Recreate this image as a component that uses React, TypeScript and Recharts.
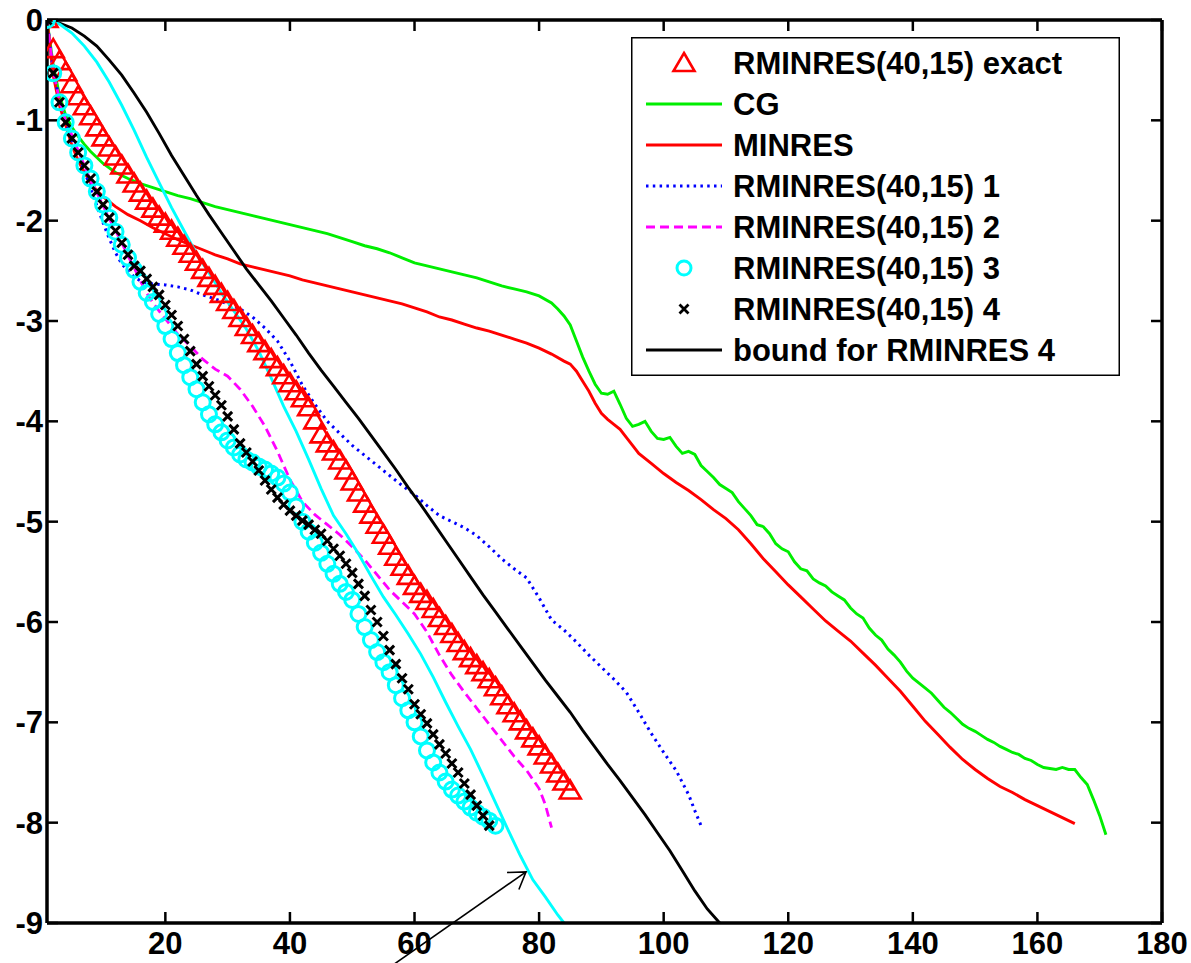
import React from 'react';
import { LineChart, Line, XAxis, YAxis, Legend, ReferenceLine } from 'recharts';

const FONT = '"Liberation Sans", Arial, Helvetica, sans-serif';

const xTicks = [20, 40, 60, 80, 100, 120, 140, 160, 180];
const yTicks = [0, -1, -2, -3, -4, -5, -6, -7, -8, -9];

// marker series: one value per iteration, starting at iteration 1
const exactVals = [
  0, -0.3, -0.42, -0.53, -0.65, -0.77, -0.87, -0.97, -1.08, -1.18,
  -1.28, -1.37, -1.46, -1.55, -1.64, -1.73, -1.81, -1.89, -1.97, -2.04,
  -2.11, -2.18, -2.26, -2.34, -2.42, -2.5, -2.58, -2.66, -2.74, -2.82,
  -2.9, -2.98, -3.07, -3.15, -3.23, -3.31, -3.39, -3.47, -3.55, -3.63,
  -3.71, -3.78, -3.87, -4.0, -4.14, -4.23, -4.31, -4.4, -4.5, -4.61,
  -4.72, -4.83, -4.94, -5.04, -5.14, -5.25, -5.36, -5.46, -5.55, -5.65,
  -5.73, -5.8, -5.88, -5.97, -6.05, -6.13, -6.22, -6.3, -6.37, -6.44,
  -6.51, -6.58, -6.66, -6.75, -6.84, -6.92, -7.0, -7.09, -7.17, -7.25,
  -7.34, -7.43, -7.52, -7.6, -7.69,
];

const run3Vals = [
  0, -0.53, -0.82, -1.02, -1.18, -1.32, -1.45, -1.58, -1.71, -1.84,
  -1.97, -2.11, -2.24, -2.37, -2.49, -2.61, -2.72, -2.81, -2.93, -3.05,
  -3.18, -3.32, -3.44, -3.56, -3.68, -3.81, -3.93, -4.03, -4.11, -4.19,
  -4.26, -4.33, -4.38, -4.41, -4.45, -4.48, -4.52, -4.56, -4.62, -4.71,
  -4.85, -5.0, -5.1, -5.21, -5.31, -5.42, -5.52, -5.62, -5.7, -5.78,
  -5.92, -6.05, -6.18, -6.3, -6.4, -6.5, -6.63, -6.76, -6.88, -7.0,
  -7.14, -7.28, -7.4, -7.5, -7.59, -7.67, -7.73, -7.79, -7.85, -7.9,
  -7.94, -7.98, -8.03,
];

const run4Vals = [
  0, -0.53, -0.82, -1.02, -1.18, -1.32, -1.45, -1.58, -1.71, -1.84,
  -1.97, -2.1, -2.22, -2.34, -2.45, -2.5, -2.58, -2.66, -2.74, -2.84,
  -2.94, -3.05, -3.18, -3.3, -3.43, -3.55, -3.65, -3.74, -3.84, -3.95,
  -4.08, -4.22, -4.31, -4.4, -4.49, -4.59, -4.68, -4.76, -4.83, -4.89,
  -4.94, -4.99, -5.03, -5.08, -5.12, -5.19, -5.27, -5.34, -5.42, -5.51,
  -5.62, -5.74, -5.88, -6.0, -6.14, -6.28, -6.42, -6.56, -6.67, -6.82,
  -6.92, -7.01, -7.12, -7.22, -7.31, -7.41, -7.5, -7.61, -7.72, -7.83,
  -7.93, -8.03,
];

// line series: [iteration, log10 residual]
const cgPts: [number, number][] = [
  [1, 0], [2, -0.45], [3, -0.75], [4, -0.95], [5, -1.07], [6, -1.16], [7, -1.24], [8, -1.31],
  [9, -1.37], [10, -1.43], [12, -1.52], [14, -1.58], [16, -1.63], [18, -1.67], [20, -1.71],
  [22, -1.75], [24, -1.78], [26, -1.82], [28, -1.86], [30, -1.89], [32, -1.92], [34, -1.95],
  [36, -1.98], [38, -2.01], [40, -2.04], [42, -2.07], [44, -2.1], [46, -2.13], [48, -2.17],
  [50, -2.21], [52, -2.25], [54, -2.28], [56, -2.32], [58, -2.37], [60, -2.42], [62, -2.45],
  [64, -2.48], [66, -2.51], [68, -2.54], [70, -2.57], [72, -2.61], [74, -2.65], [76, -2.68],
  [78, -2.71], [80, -2.75], [82, -2.82], [83, -2.88], [84, -2.95], [85, -3.04], [86, -3.2],
  [87, -3.36], [88, -3.5], [89, -3.63], [90, -3.72], [91, -3.73], [92, -3.7], [93, -3.83],
  [94, -3.97], [95, -4.05], [96, -4.03], [97, -4.0], [98, -4.1], [99, -4.17], [100, -4.18],
  [101, -4.16], [102, -4.25], [103, -4.32], [104, -4.3], [105, -4.33], [106, -4.44], [107, -4.5],
  [108, -4.56], [109, -4.63], [110, -4.67], [111, -4.71], [112, -4.8], [113, -4.87], [114, -4.94],
  [115, -5.03], [116, -5.05], [117, -5.12], [118, -5.22], [119, -5.27], [120, -5.3], [121, -5.4],
  [122, -5.47], [123, -5.49], [124, -5.57], [125, -5.61], [126, -5.64], [127, -5.7], [128, -5.74],
  [129, -5.78], [130, -5.86], [131, -5.92], [132, -5.96], [133, -6.06], [134, -6.13], [135, -6.18],
  [136, -6.27], [137, -6.33], [138, -6.4], [139, -6.49], [140, -6.56], [141, -6.61], [142, -6.66],
  [143, -6.71], [144, -6.78], [145, -6.85], [146, -6.9], [147, -6.96], [148, -7.02], [149, -7.06],
  [150, -7.09], [151, -7.13], [152, -7.17], [153, -7.2], [154, -7.24], [155, -7.27], [156, -7.3],
  [157, -7.32], [158, -7.36], [159, -7.38], [160, -7.42], [161, -7.45], [162, -7.46], [163, -7.47],
  [164, -7.45], [165, -7.47], [166, -7.47], [167, -7.55], [168, -7.62], [169, -7.77], [170, -7.93],
  [171, -8.12],
];

const minresPts: [number, number][] = [
  [1, 0], [2, -0.55], [3, -0.85], [4, -1.05], [5, -1.25], [6, -1.4], [7, -1.52], [8, -1.62],
  [9, -1.7], [10, -1.76], [12, -1.86], [14, -1.94], [16, -2.0], [18, -2.07], [20, -2.13],
  [22, -2.19], [24, -2.24], [26, -2.29], [28, -2.34], [30, -2.38], [32, -2.43], [34, -2.46],
  [36, -2.49], [38, -2.52], [40, -2.55], [42, -2.59], [44, -2.62], [46, -2.65], [48, -2.68],
  [50, -2.71], [52, -2.74], [54, -2.77], [56, -2.8], [58, -2.83], [60, -2.87], [62, -2.91],
  [64, -2.96], [66, -2.99], [68, -3.03], [70, -3.07], [72, -3.1], [74, -3.14], [76, -3.18],
  [78, -3.22], [80, -3.27], [82, -3.33], [84, -3.4], [85, -3.43], [86, -3.5], [87, -3.6],
  [88, -3.7], [89, -3.82], [90, -3.92], [91, -3.98], [92, -4.03], [93, -4.08], [94, -4.16],
  [95, -4.24], [96, -4.32], [98, -4.42], [100, -4.52], [102, -4.61], [104, -4.69], [106, -4.78],
  [108, -4.88], [110, -4.97], [112, -5.08], [114, -5.22], [116, -5.37], [118, -5.5], [120, -5.63],
  [122, -5.75], [124, -5.87], [126, -5.99], [128, -6.09], [130, -6.19], [132, -6.31], [134, -6.43],
  [136, -6.56], [138, -6.69], [140, -6.84], [142, -6.99], [144, -7.12], [146, -7.25], [148, -7.37],
  [150, -7.47], [152, -7.56], [154, -7.64], [156, -7.7], [158, -7.77], [160, -7.83], [162, -7.89],
  [164, -7.95], [166, -8.01],
];

const run1Pts: [number, number][] = [
  [1, 0], [2, -0.5], [3, -0.8], [4, -1.0], [5, -1.2], [6, -1.35], [7, -1.5], [8, -1.68],
  [9, -1.85], [10, -2.02], [11, -2.18], [12, -2.32], [13, -2.43], [14, -2.5], [15, -2.56],
  [16, -2.6], [17, -2.62], [18, -2.63], [20, -2.64], [22, -2.66], [24, -2.69], [26, -2.74],
  [28, -2.78], [30, -2.83], [32, -2.88], [34, -2.96], [36, -3.07], [38, -3.2], [40, -3.4],
  [42, -3.64], [44, -3.83], [46, -4.0], [48, -4.12], [50, -4.24], [52, -4.34], [54, -4.44],
  [56, -4.54], [58, -4.64], [60, -4.73], [62, -4.84], [64, -4.94], [66, -5.0], [68, -5.06],
  [70, -5.14], [72, -5.25], [74, -5.37], [76, -5.47], [78, -5.56], [80, -5.76], [82, -5.98],
  [84, -6.08], [86, -6.2], [88, -6.33], [90, -6.45], [92, -6.57], [94, -6.7], [96, -6.9],
  [98, -7.11], [100, -7.3], [102, -7.48], [104, -7.72], [105, -7.88], [106, -8.03],
];

const run2Pts: [number, number][] = [
  [1, 0], [2, -0.5], [3, -0.8], [4, -1.0], [5, -1.15], [6, -1.3], [7, -1.45], [8, -1.6],
  [9, -1.72], [10, -1.85], [11, -1.98], [12, -2.1], [13, -2.22], [14, -2.35], [15, -2.47],
  [16, -2.6], [17, -2.72], [18, -2.82], [20, -2.98], [22, -3.13], [24, -3.25], [26, -3.38],
  [28, -3.48], [30, -3.55], [32, -3.68], [34, -3.85], [36, -4.05], [38, -4.3], [40, -4.58],
  [42, -4.8], [44, -4.93], [46, -5.03], [48, -5.13], [50, -5.25], [52, -5.38], [54, -5.53],
  [56, -5.68], [58, -5.8], [60, -5.92], [62, -6.1], [64, -6.33], [66, -6.53], [68, -6.7],
  [70, -6.86], [72, -7.02], [74, -7.18], [76, -7.34], [78, -7.48], [80, -7.66], [81, -7.82],
  [82, -8.05],
];

const boundPts: [number, number][] = [
  [1, 0], [3, -0.03], [5, -0.08], [7, -0.16], [9, -0.26], [11, -0.4], [13, -0.55], [15, -0.73],
  [17, -0.92], [19, -1.13], [21, -1.35], [23, -1.55], [25, -1.75], [27, -1.94], [29, -2.12],
  [31, -2.3], [33, -2.48], [35, -2.64], [37, -2.8], [39, -2.97], [41, -3.14], [43, -3.32],
  [45, -3.49], [47, -3.65], [49, -3.81], [51, -3.97], [53, -4.14], [55, -4.31], [57, -4.48],
  [59, -4.66], [61, -4.83], [63, -5.01], [65, -5.19], [67, -5.37], [69, -5.55], [71, -5.73],
  [73, -5.9], [75, -6.07], [77, -6.24], [79, -6.41], [81, -6.58], [83, -6.74], [85, -6.9],
  [87, -7.08], [89, -7.25], [91, -7.42], [93, -7.58], [95, -7.75], [97, -7.92], [99, -8.1],
  [101, -8.28], [103, -8.48], [105, -8.68], [107, -8.86], [109, -9.0],
];

// the unlabelled cyan curve the arrow points at
const cyanPts: [number, number][] = [
  [1, 0], [3, -0.04], [5, -0.13], [7, -0.26], [9, -0.42], [11, -0.62], [13, -0.85], [15, -1.1],
  [17, -1.37], [19, -1.62], [21, -1.87], [23, -2.1], [25, -2.33], [27, -2.52], [29, -2.72],
  [31, -2.9], [33, -3.08], [35, -3.3], [37, -3.57], [39, -3.85], [41, -4.1], [43, -4.38],
  [45, -4.67], [47, -4.94], [49, -5.12], [51, -5.32], [53, -5.54], [55, -5.75], [57, -5.93],
  [59, -6.12], [61, -6.32], [63, -6.55], [65, -6.8], [67, -7.04], [69, -7.27], [71, -7.53],
  [73, -7.8], [75, -8.07], [77, -8.33], [79, -8.57], [81, -8.74], [83, -8.92], [84, -9.0],
];

// arrow annotation, tail then head (data coords)
const arrowSegment = [{ x: 56.5, y: -9.42 }, { x: 77.9, y: -8.49 }];

const fromVals = (vals: number[]) => vals.map((y, i) => ({ x: i + 1, y }));
const fromPts = (pts: [number, number][]) => pts.map(([x, y]) => ({ x, y }));

const RED = '#ff0000';
const GREEN = '#00ee00';
const BLUE = '#0000ff';
const MAGENTA = '#ff00ff';
const CYAN = '#00ffff';

const triPath = (cx: number, cy: number) =>
  `M${cx},${cy - 11}L${cx + 10.5},${cy + 7}L${cx - 10.5},${cy + 7}Z`;
const xPath = (cx: number, cy: number) =>
  `M${cx - 4.5},${cy - 4.5}L${cx + 4.5},${cy + 4.5}M${cx - 4.5},${cy + 4.5}L${cx + 4.5},${cy - 4.5}`;

const TriangleDot = (props: any) => {
  const { cx, cy, index } = props;
  if (cx == null || cy == null) return <g key={`t${index}`} />;
  return <path key={`t${index}`} d={triPath(cx, cy)} fill="none" stroke={RED} strokeWidth={2.6} />;
};

const CircleDot = (props: any) => {
  const { cx, cy, index } = props;
  if (cx == null || cy == null) return <g key={`c${index}`} />;
  return <circle key={`c${index}`} cx={cx} cy={cy} r={7.5} fill="none" stroke={CYAN} strokeWidth={3} />;
};

const CrossDot = (props: any) => {
  const { cx, cy, index } = props;
  if (cx == null || cy == null) return <g key={`x${index}`} />;
  return <path key={`x${index}`} d={xPath(cx, cy)} stroke="#000" strokeWidth={3} />;
};

const ArrowShape = (props: any) => {
  const { x1, y1, x2, y2 } = props;
  if ([x1, y1, x2, y2].some((v) => v == null || isNaN(v))) return <g />;
  const ang = Math.atan2(y1 - y2, x1 - x2);
  const len = 19;
  const spread = (33 * Math.PI) / 180;
  const b1x = x2 + len * Math.cos(ang + spread);
  const b1y = y2 + len * Math.sin(ang + spread);
  const b2x = x2 + len * Math.cos(ang - spread);
  const b2y = y2 + len * Math.sin(ang - spread);
  return (
    <g stroke="#000" strokeWidth={1.6} fill="none">
      <line x1={x1} y1={y1} x2={x2} y2={y2} />
      <polyline points={`${b1x},${b1y} ${x2},${y2} ${b2x},${b2y}`} />
    </g>
  );
};

type LegendKind = 'tri' | 'line' | 'dot' | 'dash' | 'circle' | 'cross';
const legendItems: { name: string; color: string; kind: LegendKind }[] = [
  { name: 'RMINRES(40,15) exact', color: RED, kind: 'tri' },
  { name: 'CG', color: GREEN, kind: 'line' },
  { name: 'MINRES', color: RED, kind: 'line' },
  { name: 'RMINRES(40,15) 1', color: BLUE, kind: 'dot' },
  { name: 'RMINRES(40,15) 2', color: MAGENTA, kind: 'dash' },
  { name: 'RMINRES(40,15) 3', color: CYAN, kind: 'circle' },
  { name: 'RMINRES(40,15) 4', color: '#000', kind: 'cross' },
  { name: 'bound for RMINRES 4', color: '#000', kind: 'line' },
];

const LegendBox = () => (
  <svg width={490} height={340} style={{ display: 'block' }}>
    <rect x={0.75} y={0.75} width={487.5} height={337.5} fill="#fff" stroke="#000" strokeWidth={1.5} />
    {legendItems.map((it, i) => {
      const y = 26 + i * 41;
      let mark: React.ReactNode = null;
      if (it.kind === 'tri') mark = <path d={triPath(53, y + 1)} fill="none" stroke={it.color} strokeWidth={2.6} />;
      else if (it.kind === 'circle') mark = <circle cx={53} cy={y} r={7} fill="none" stroke={it.color} strokeWidth={3} />;
      else if (it.kind === 'cross') mark = <path d={xPath(53, y)} stroke={it.color} strokeWidth={2.8} />;
      else
        mark = (
          <line
            x1={15}
            x2={91}
            y1={y}
            y2={y}
            stroke={it.color}
            strokeWidth={it.kind === 'dot' ? 3 : 2.8}
            strokeDasharray={it.kind === 'dot' ? '2.5 4.3' : it.kind === 'dash' ? '9 5' : undefined}
          />
        );
      return (
        <g key={it.name}>
          {mark}
          <text x={102} y={y + 11} fontFamily={FONT} fontWeight="bold" fontSize={31} fill="#000">
            {it.name}
          </text>
        </g>
      );
    })}
  </svg>
);

const tickStyle = { fill: '#000', fontSize: 31, fontWeight: 'bold', fontFamily: FONT };
const axisLine = { stroke: '#000', strokeWidth: 3.5 };
const tickLine = { stroke: '#000', strokeWidth: 2.5 };
const blank = () => '';

export default function App() {
  return (
    <div style={{ position: 'absolute', left: 0, top: 0, width: 1191, height: 963, background: '#fff' }}>
      <LineChart width={1191} height={963} margin={{ top: 19, right: 28, bottom: 0, left: 7 }}>
        <XAxis
          xAxisId={0}
          dataKey="x"
          type="number"
          domain={[1, 180]}
          ticks={xTicks}
          allowDataOverflow
          height={40}
          axisLine={axisLine}
          tickLine={tickLine}
          tickSize={-11}
          tickMargin={20}
          tick={tickStyle}
        />
        <XAxis
          xAxisId="top"
          orientation="top"
          dataKey="x"
          type="number"
          domain={[1, 180]}
          ticks={xTicks}
          allowDataOverflow
          height={1}
          axisLine={axisLine}
          tickLine={tickLine}
          tickSize={-11}
          tickFormatter={blank}
        />
        <YAxis
          yAxisId={0}
          type="number"
          domain={[-9, 0]}
          ticks={yTicks}
          allowDataOverflow
          width={40}
          axisLine={axisLine}
          tickLine={tickLine}
          tickSize={-11}
          tickMargin={15}
          tick={tickStyle}
        />
        <YAxis
          yAxisId="right"
          orientation="right"
          type="number"
          domain={[-9, 0]}
          ticks={yTicks}
          allowDataOverflow
          width={1}
          axisLine={axisLine}
          tickLine={tickLine}
          tickSize={-11}
          tickFormatter={blank}
        />

        <Line data={fromVals(exactVals)} dataKey="y" name="RMINRES(40,15) exact" stroke="none"
          dot={TriangleDot} activeDot={false} isAnimationActive={false} />
        <Line data={fromPts(cgPts)} dataKey="y" name="CG" stroke={GREEN} strokeWidth={2.9}
          dot={false} activeDot={false} isAnimationActive={false} />
        <Line data={fromPts(minresPts)} dataKey="y" name="MINRES" stroke={RED} strokeWidth={2.9}
          dot={false} activeDot={false} isAnimationActive={false} />
        <Line data={fromPts(run1Pts)} dataKey="y" name="RMINRES(40,15) 1" stroke={BLUE} strokeWidth={3}
          strokeDasharray="2.5 4.3" dot={false} activeDot={false} isAnimationActive={false} />
        <Line data={fromPts(run2Pts)} dataKey="y" name="RMINRES(40,15) 2" stroke={MAGENTA} strokeWidth={2.8}
          strokeDasharray="9 5" dot={false} activeDot={false} isAnimationActive={false} />
        <Line data={fromVals(run3Vals)} dataKey="y" name="RMINRES(40,15) 3" stroke="none"
          dot={CircleDot} activeDot={false} isAnimationActive={false} />
        <Line data={fromVals(run4Vals)} dataKey="y" name="RMINRES(40,15) 4" stroke="none"
          dot={CrossDot} activeDot={false} isAnimationActive={false} />
        <Line data={fromPts(boundPts)} dataKey="y" name="bound for RMINRES 4" stroke="#000" strokeWidth={2.9}
          dot={false} activeDot={false} isAnimationActive={false} />
        <Line data={fromPts(cyanPts)} dataKey="y" name="bound 3" stroke={CYAN} strokeWidth={2.9}
          dot={false} activeDot={false} isAnimationActive={false} legendType="none" />

        <ReferenceLine segment={arrowSegment} ifOverflow="visible" shape={ArrowShape} />

        <Legend
          layout="vertical"
          align="center"
          verticalAlign="middle"
          content={() => <LegendBox />}
          wrapperStyle={{ position: 'absolute', left: 631, top: 37, width: 490, height: 340 }}
        />
      </LineChart>
    </div>
  );
}
